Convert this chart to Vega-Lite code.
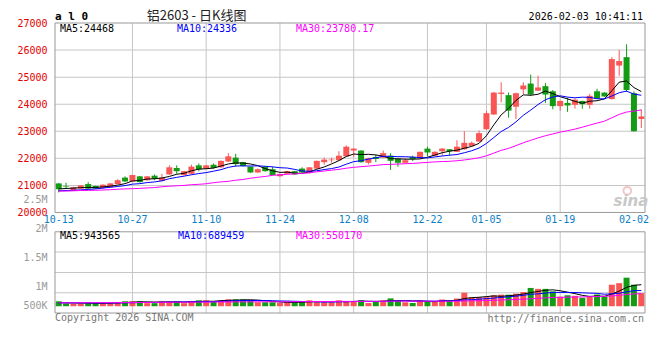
{
  "$schema": "https://vega.github.io/schema/vega-lite/v6.json",
  "width": 600,
  "height": 300,
  "autosize": "none",
  "padding": {"left": 50, "top": 18, "right": 10, "bottom": 42},
  "background": "white",
  "config": {"view": {"stroke": null}, "text": {"font": "DejaVu Sans Mono", "fontSize": 10}},
  "datasets": {
    "k": [
      {"i":0,"o":21073,"h":21085,"l":20740,"c":20859,"v":216000,"m5":20870,"m10":20800,"m30":20788,"vm5":160000,"vm10":150000,"vm30":150000},
      {"i":1,"o":20960,"h":21097,"l":20883,"c":20940,"v":120000,"m5":20885,"m10":20810,"m30":20790,"vm5":150000,"vm10":150000,"vm30":151000},
      {"i":2,"o":20811,"h":20950,"l":20800,"c":20930,"v":110000,"m5":20900,"m10":20820,"m30":20800,"vm5":145000,"vm10":148000,"vm30":152000},
      {"i":3,"o":20883,"h":21010,"l":20870,"c":21000,"v":120000,"m5":20915,"m10":20835,"m30":20811,"vm5":140000,"vm10":146000,"vm30":153000},
      {"i":4,"o":21049,"h":21121,"l":20870,"c":20883,"v":140000,"m5":20922,"m10":20850,"m30":20815,"vm5":141200,"vm10":145000,"vm30":154000},
      {"i":5,"o":20978,"h":20990,"l":20870,"c":20883,"v":140000,"m5":20927,"m10":20870,"m30":20820,"vm5":126000,"vm10":143000,"vm30":155000},
      {"i":6,"o":20907,"h":21040,"l":20880,"c":21026,"v":140000,"m5":20944,"m10":20900,"m30":20830,"vm5":130000,"vm10":142000,"vm30":156000},
      {"i":7,"o":20930,"h":21080,"l":20920,"c":21073,"v":140000,"m5":20973,"m10":20930,"m30":20840,"vm5":136000,"vm10":142000,"vm30":157000},
      {"i":8,"o":21049,"h":21230,"l":21040,"c":21192,"v":175000,"m5":21011,"m10":20960,"m30":20859,"vm5":147000,"vm10":145000,"vm30":158000},
      {"i":9,"o":21287,"h":21335,"l":21121,"c":21145,"v":216000,"m5":21064,"m10":20993,"m30":20870,"vm5":162200,"vm10":151700,"vm30":160000},
      {"i":10,"o":21145,"h":21390,"l":21130,"c":21383,"v":216000,"m5":21164,"m10":21046,"m30":20880,"vm5":177400,"vm10":151700,"vm30":162000},
      {"i":11,"o":21335,"h":21345,"l":21100,"c":21121,"v":216000,"m5":21183,"m10":21064,"m30":20890,"vm5":192600,"vm10":161300,"vm30":164000},
      {"i":12,"o":21192,"h":21345,"l":21170,"c":21335,"v":135000,"m5":21235,"m10":21104,"m30":20907,"vm5":191600,"vm10":163800,"vm30":166000},
      {"i":13,"o":21359,"h":21406,"l":21192,"c":21240,"v":135000,"m5":21245,"m10":21128,"m30":20920,"vm5":183600,"vm10":165300,"vm30":168000},
      {"i":14,"o":21168,"h":21430,"l":21150,"c":21287,"v":216000,"m5":21273,"m10":21169,"m30":20950,"vm5":183600,"vm10":172900,"vm30":170000},
      {"i":15,"o":21406,"h":21740,"l":21390,"c":21668,"v":216000,"m5":21330,"m10":21247,"m30":20970,"vm5":183600,"vm10":180500,"vm30":172000},
      {"i":16,"o":21644,"h":21740,"l":21430,"c":21525,"v":216000,"m5":21411,"m10":21297,"m30":20985,"vm5":183600,"vm10":188100,"vm30":174000},
      {"i":17,"o":21382,"h":21540,"l":21370,"c":21525,"v":135000,"m5":21449,"m10":21342,"m30":21000,"vm5":183600,"vm10":187600,"vm30":176000},
      {"i":18,"o":21430,"h":21763,"l":21400,"c":21692,"v":216000,"m5":21539,"m10":21392,"m30":21026,"vm5":199800,"vm10":191700,"vm30":178000},
      {"i":19,"o":21740,"h":21811,"l":21525,"c":21597,"v":259000,"m5":21601,"m10":21437,"m30":21040,"vm5":208400,"vm10":196000,"vm30":180000},
      {"i":20,"o":21621,"h":21760,"l":21600,"c":21740,"v":259000,"m5":21616,"m10":21473,"m30":21060,"vm5":217000,"vm10":200300,"vm30":182000},
      {"i":21,"o":21763,"h":21811,"l":21620,"c":21644,"v":216000,"m5":21640,"m10":21525,"m30":21100,"vm5":217000,"vm10":200300,"vm30":184000},
      {"i":22,"o":21668,"h":21920,"l":21650,"c":21906,"v":259000,"m5":21716,"m10":21582,"m30":21130,"vm5":241800,"vm10":212700,"vm30":186000},
      {"i":23,"o":21882,"h":22192,"l":21870,"c":22073,"v":300000,"m5":21792,"m10":21666,"m30":21150,"vm5":258600,"vm10":229200,"vm30":188000},
      {"i":24,"o":22026,"h":22168,"l":21692,"c":21787,"v":300000,"m5":21830,"m10":21716,"m30":21192,"vm5":266800,"vm10":237600,"vm30":190000},
      {"i":25,"o":21859,"h":21870,"l":21700,"c":21716,"v":300000,"m5":21825,"m10":21721,"m30":21220,"vm5":275000,"vm10":246000,"vm30":192000},
      {"i":26,"o":21692,"h":21700,"l":21460,"c":21478,"v":259000,"m5":21792,"m10":21716,"m30":21264,"vm5":283600,"vm10":250300,"vm30":193000},
      {"i":27,"o":21478,"h":21620,"l":21455,"c":21597,"v":175000,"m5":21730,"m10":21723,"m30":21300,"vm5":266800,"vm10":254300,"vm30":194000},
      {"i":28,"o":21692,"h":21700,"l":21510,"c":21525,"v":175000,"m5":21621,"m10":21706,"m30":21330,"vm5":241800,"vm10":250200,"vm30":195000},
      {"i":29,"o":21597,"h":21692,"l":21370,"c":21383,"v":175000,"m5":21540,"m10":21685,"m30":21372,"vm5":216800,"vm10":241800,"vm30":196500},
      {"i":30,"o":21340,"h":21430,"l":21320,"c":21420,"v":140000,"m5":21481,"m10":21653,"m30":21390,"vm5":184800,"vm10":229900,"vm30":194000},
      {"i":31,"o":21430,"h":21540,"l":21420,"c":21525,"v":175000,"m5":21490,"m10":21641,"m30":21410,"vm5":168000,"vm10":225800,"vm30":195800},
      {"i":32,"o":21525,"h":21540,"l":21390,"c":21406,"v":175000,"m5":21452,"m10":21591,"m30":21426,"vm5":168000,"vm10":217400,"vm30":198000},
      {"i":33,"o":21621,"h":21668,"l":21460,"c":21478,"v":216000,"m5":21442,"m10":21532,"m30":21442,"vm5":176200,"vm10":209000,"vm30":201200},
      {"i":34,"o":21454,"h":21680,"l":21440,"c":21668,"v":259000,"m5":21499,"m10":21520,"m30":21468,"vm5":193000,"vm10":204900,"vm30":205100},
      {"i":35,"o":21621,"h":21920,"l":21610,"c":21906,"v":175000,"m5":21597,"m10":21539,"m30":21502,"vm5":200000,"vm10":192400,"vm30":206300},
      {"i":36,"o":21858,"h":22026,"l":21763,"c":21954,"v":175000,"m5":21682,"m10":21586,"m30":21533,"vm5":200000,"vm10":184000,"vm30":207500},
      {"i":37,"o":21930,"h":22026,"l":21835,"c":21954,"v":175000,"m5":21792,"m10":21622,"m30":21562,"vm5":200000,"vm10":184000,"vm30":208600},
      {"i":38,"o":21930,"h":22264,"l":21920,"c":22097,"v":259000,"m5":21916,"m10":21679,"m30":21593,"vm5":208600,"vm10":192400,"vm30":211400},
      {"i":39,"o":22073,"h":22478,"l":22060,"c":22430,"v":216000,"m5":22068,"m10":21784,"m30":21635,"vm5":200000,"vm10":196500,"vm30":211400},
      {"i":40,"o":22287,"h":22380,"l":22050,"c":22359,"v":216000,"m5":22159,"m10":21878,"m30":21668,"vm5":208200,"vm10":204100,"vm30":211400},
      {"i":41,"o":22287,"h":22300,"l":21840,"c":21858,"v":259000,"m5":22140,"m10":21911,"m30":21692,"vm5":225000,"vm10":212500,"vm30":212900},
      {"i":42,"o":21835,"h":22020,"l":21780,"c":22002,"v":140000,"m5":22149,"m10":21971,"m30":21715,"vm5":218000,"vm10":209000,"vm30":213000},
      {"i":43,"o":22049,"h":22145,"l":21858,"c":21978,"v":216000,"m5":22125,"m10":22021,"m30":21739,"vm5":209400,"vm10":209000,"vm30":215700},
      {"i":44,"o":22026,"h":22287,"l":22010,"c":22192,"v":259000,"m5":22078,"m10":22073,"m30":21769,"vm5":218000,"vm10":209000,"vm30":217200},
      {"i":45,"o":22097,"h":22192,"l":21573,"c":21906,"v":343000,"m5":21987,"m10":22073,"m30":21777,"vm5":243400,"vm10":225800,"vm30":221400},
      {"i":46,"o":21978,"h":21990,"l":21692,"c":21835,"v":259000,"m5":21983,"m10":22061,"m30":21788,"vm5":243400,"vm10":234200,"vm30":222800},
      {"i":47,"o":21835,"h":22002,"l":21810,"c":21930,"v":175000,"m5":21968,"m10":22059,"m30":21801,"vm5":250400,"vm10":234200,"vm30":224200},
      {"i":48,"o":22049,"h":22097,"l":21900,"c":21978,"v":140000,"m5":21968,"m10":22047,"m30":21811,"vm5":235200,"vm10":222300,"vm30":221600},
      {"i":49,"o":22002,"h":22250,"l":21990,"c":22240,"v":259000,"m5":21978,"m10":22028,"m30":21832,"vm5":235200,"vm10":226600,"vm30":221600},
      {"i":50,"o":22359,"h":22430,"l":22073,"c":22216,"v":215000,"m5":22040,"m10":22014,"m30":21848,"vm5":209600,"vm10":226500,"vm30":220200},
      {"i":51,"o":22097,"h":22260,"l":22080,"c":22240,"v":210000,"m5":22121,"m10":22052,"m30":21868,"vm5":199800,"vm10":221600,"vm30":220000},
      {"i":52,"o":22263,"h":22380,"l":22097,"c":22359,"v":295000,"m5":22207,"m10":22087,"m30":21883,"vm5":223800,"vm10":237100,"vm30":221200},
      {"i":53,"o":22335,"h":22345,"l":22097,"c":22263,"v":250000,"m5":22264,"m10":22116,"m30":21889,"vm5":245800,"vm10":240500,"vm30":219500},
      {"i":54,"o":22240,"h":22668,"l":22230,"c":22430,"v":335000,"m5":22302,"m10":22140,"m30":21911,"vm5":261000,"vm10":248100,"vm30":220700},
      {"i":55,"o":22335,"h":23001,"l":22320,"c":22573,"v":590000,"m5":22373,"m10":22206,"m30":21939,"vm5":336000,"vm10":272800,"vm30":230300},
      {"i":56,"o":22454,"h":22620,"l":22440,"c":22573,"v":395000,"m5":22440,"m10":22280,"m30":21976,"vm5":373000,"vm10":286400,"vm30":234900},
      {"i":57,"o":22620,"h":23025,"l":22600,"c":22930,"v":395000,"m5":22554,"m10":22380,"m30":22020,"vm5":393000,"vm10":308400,"vm30":242200},
      {"i":58,"o":23073,"h":23763,"l":23060,"c":23668,"v":395000,"m5":22835,"m10":22549,"m30":22092,"vm5":422000,"vm10":333900,"vm30":249500},
      {"i":59,"o":23620,"h":24450,"l":23600,"c":24429,"v":480000,"m5":23235,"m10":22768,"m30":22193,"vm5":451000,"vm10":356000,"vm30":259700},
      {"i":60,"o":24381,"h":24810,"l":24072,"c":24430,"v":505000,"m5":23606,"m10":22990,"m30":22294,"vm5":434000,"vm10":385000,"vm30":271900},
      {"i":61,"o":24334,"h":24429,"l":23501,"c":23763,"v":505000,"m5":23844,"m10":23142,"m30":22368,"vm5":456000,"vm10":414500,"vm30":282900},
      {"i":62,"o":23906,"h":24430,"l":23453,"c":24405,"v":550000,"m5":24139,"m10":23346,"m30":22468,"vm5":487000,"vm10":440000,"vm30":295400},
      {"i":63,"o":24548,"h":24810,"l":24358,"c":24691,"v":620000,"m5":24344,"m10":23589,"m30":22575,"vm5":532000,"vm10":477000,"vm30":308800},
      {"i":64,"o":24762,"h":25095,"l":24310,"c":24358,"v":800000,"m5":24329,"m10":23782,"m30":22665,"vm5":596000,"vm10":523500,"vm30":326900},
      {"i":65,"o":24500,"h":25048,"l":24480,"c":24619,"v":760000,"m5":24367,"m10":23987,"m30":22755,"vm5":647000,"vm10":540500,"vm30":346400},
      {"i":66,"o":24667,"h":24786,"l":24048,"c":24358,"v":760000,"m5":24486,"m10":24165,"m30":22835,"vm5":698000,"vm10":577000,"vm30":365900},
      {"i":67,"o":24477,"h":24524,"l":23810,"c":23929,"v":650000,"m5":24391,"m10":24265,"m30":22901,"vm5":718000,"vm10":602500,"vm30":381700},
      {"i":68,"o":23929,"h":24140,"l":23763,"c":24120,"v":420000,"m5":24277,"m10":24310,"m30":22969,"vm5":678000,"vm10":605000,"vm30":387100},
      {"i":69,"o":24048,"h":24239,"l":23715,"c":23953,"v":480000,"m5":24196,"m10":24263,"m30":23020,"vm5":614000,"vm10":605000,"vm30":395900},
      {"i":70,"o":23977,"h":24215,"l":23834,"c":24167,"v":455000,"m5":24105,"m10":24236,"m30":23080,"vm5":553000,"vm10":600000,"vm30":403800},
      {"i":71,"o":24120,"h":24130,"l":23834,"c":24001,"v":370000,"m5":24034,"m10":24260,"m30":23151,"vm5":475000,"vm10":586500,"vm30":407500},
      {"i":72,"o":23977,"h":24381,"l":23834,"c":24310,"v":425000,"m5":24110,"m10":24251,"m30":23228,"vm5":430000,"vm10":574000,"vm30":417000},
      {"i":73,"o":24477,"h":24572,"l":24200,"c":24215,"v":510000,"m5":24129,"m10":24203,"m30":23303,"vm5":448000,"vm10":563000,"vm30":426800},
      {"i":74,"o":24429,"h":24440,"l":24270,"c":24286,"v":417000,"m5":24196,"m10":24196,"m30":23373,"vm5":435400,"vm10":524700,"vm30":432100},
      {"i":75,"o":24191,"h":25738,"l":24170,"c":25667,"v":943000,"m5":24496,"m10":24301,"m30":23498,"vm5":533000,"vm10":543000,"vm30":452100},
      {"i":76,"o":25429,"h":26000,"l":25048,"c":25595,"v":1010000,"m5":24815,"m10":24424,"m30":23623,"vm5":661000,"vm10":568000,"vm30":477100},
      {"i":77,"o":25738,"h":26214,"l":24453,"c":24524,"v":1250000,"m5":24857,"m10":24484,"m30":23710,"vm5":826000,"vm10":628000,"vm30":513000},
      {"i":78,"o":24405,"h":24477,"l":22990,"c":23001,"v":943000,"m5":24615,"m10":24372,"m30":23744,"vm5":912600,"vm10":680300,"vm30":539700},
      {"i":79,"o":23453,"h":23810,"l":23120,"c":23548,"v":572000,"m5":24467,"m10":24331,"m30":23787,"vm5":943600,"vm10":689500,"vm30":550200}
    ],
    "ticks": [
      {"i":0,"d":"10-13"},{"i":10,"d":"10-27"},{"i":20,"d":"11-10"},{"i":30,"d":"11-24"},{"i":40,"d":"12-08"},
      {"i":50,"d":"12-22"},{"i":58,"d":"01-05"},{"i":68,"d":"01-19"},{"i":78,"d":"02-02"}
    ],
    "pgrid": [{"g":21000},{"g":22000},{"g":23000},{"g":24000},{"g":25000},{"g":26000}],
    "vgrid": [{"g":2368800},{"g":1480500},{"g":592200}]
  },
  "layer": [
    {
      "data": {"name": "k"},
      "layer": [
        {
          "data": {"name": "ticks"},
          "transform": [{"filter": "datum.i > 0 && datum.i < 78"}],
          "mark": {"type": "bar", "size": 1, "color": "#c6c6c6"},
          "encoding": {
            "x": {"field": "i", "type": "quantitative", "scale": {"domain": [-0.5, 79.5], "nice": false, "zero": false}, "axis": null},
            "y": {"datum": 27000, "type": "quantitative", "scale": {"domain": [16285.714, 27000], "nice": false, "zero": false}},
            "y2": {"datum": 20000}
          }
        },
        {
          "data": {"name": "pgrid"},
          "mark": {"type": "bar", "size": 1, "orient": "horizontal", "color": "#c6c6c6"},
          "encoding": {
            "x": {"datum": -0.5, "type": "quantitative", "scale": {"domain": [-0.5, 79.5], "nice": false, "zero": false}, "axis": null},
            "x2": {"datum": 79.5},
            "y": {"field": "g", "type": "quantitative", "scale": {"domain": [16285.714, 27000], "nice": false, "zero": false}}
          }
        },
        {
          "mark": {"type": "rule", "strokeWidth": 1},
          "encoding": {
            "x": {"field": "i", "type": "quantitative", "scale": {"domain": [-0.5, 79.5], "nice": false, "zero": false}, "axis": null},
            "y": {"field": "l", "type": "quantitative", "scale": {"domain": [16285.714, 27000], "nice": false, "zero": false},
              "axis": {"title": null, "values": [20000, 21000, 22000, 23000, 24000, 25000, 26000, 27000], "format": "d", "ticks": false, "domain": false,
                "labelColor": "#e60000", "labelFont": "DejaVu Sans Mono", "labelFontSize": 10, "labelPadding": 3, "grid": false}},
            "y2": {"field": "h"},
            "color": {"condition": {"test": "datum.c >= datum.o", "value": "#fa5555"}, "value": "#139b13"}
          }
        },
        {
          "mark": {"type": "bar", "size": 6},
          "encoding": {
            "x": {"field": "i", "type": "quantitative", "scale": {"domain": [-0.5, 79.5], "nice": false, "zero": false}, "axis": null},
            "y": {"field": "o", "type": "quantitative", "scale": {"domain": [16285.714, 27000], "nice": false, "zero": false}},
            "y2": {"field": "c"},
            "color": {"condition": {"test": "datum.c >= datum.o", "value": "#fa5555"}, "value": "#139b13"}
          }
        },
        {
          "mark": {"type": "line", "color": "#000000", "strokeWidth": 1},
          "encoding": {
            "x": {"field": "i", "type": "quantitative", "scale": {"domain": [-0.5, 79.5], "nice": false, "zero": false}, "axis": null},
            "y": {"field": "m5", "type": "quantitative", "scale": {"domain": [16285.714, 27000], "nice": false, "zero": false}}
          }
        },
        {
          "mark": {"type": "line", "color": "#0000ff", "strokeWidth": 1},
          "encoding": {
            "x": {"field": "i", "type": "quantitative", "scale": {"domain": [-0.5, 79.5], "nice": false, "zero": false}, "axis": null},
            "y": {"field": "m10", "type": "quantitative", "scale": {"domain": [16285.714, 27000], "nice": false, "zero": false}}
          }
        },
        {
          "mark": {"type": "line", "color": "#ff00ff", "strokeWidth": 1},
          "encoding": {
            "x": {"field": "i", "type": "quantitative", "scale": {"domain": [-0.5, 79.5], "nice": false, "zero": false}, "axis": null},
            "y": {"field": "m30", "type": "quantitative", "scale": {"domain": [16285.714, 27000], "nice": false, "zero": false}}
          }
        },
        {
          "data": {"values": [{}]},
          "mark": {"type": "rect", "fill": "transparent", "stroke": "#999999", "strokeWidth": 1},
          "encoding": {
            "x": {"datum": -0.5, "type": "quantitative", "scale": {"domain": [-0.5, 79.5], "nice": false, "zero": false}, "axis": null},
            "x2": {"datum": 79.5},
            "y": {"datum": 27000, "type": "quantitative", "scale": {"domain": [16285.714, 27000], "nice": false, "zero": false}},
            "y2": {"datum": 20000}
          }
        },
        {
          "data": {"values": [{}]},
          "mark": {"type": "text", "align": "left", "baseline": "middle", "color": "#000000", "text": "MA5:24468"},
          "encoding": {
            "x": {"datum": 0.17, "type": "quantitative", "scale": {"domain": [-0.5, 79.5], "nice": false, "zero": false}, "axis": null},
            "y": {"datum": 26786, "type": "quantitative", "scale": {"domain": [16285.714, 27000], "nice": false, "zero": false}}
          }
        },
        {
          "data": {"values": [{}]},
          "mark": {"type": "text", "align": "left", "baseline": "middle", "color": "#0000ff", "text": "MA10:24336"},
          "encoding": {
            "x": {"datum": 16.03, "type": "quantitative", "scale": {"domain": [-0.5, 79.5], "nice": false, "zero": false}, "axis": null},
            "y": {"datum": 26786, "type": "quantitative", "scale": {"domain": [16285.714, 27000], "nice": false, "zero": false}}
          }
        },
        {
          "data": {"values": [{}]},
          "mark": {"type": "text", "align": "left", "baseline": "middle", "color": "#ff00ff", "text": "MA30:23780.17"},
          "encoding": {
            "x": {"datum": 32.17, "type": "quantitative", "scale": {"domain": [-0.5, 79.5], "nice": false, "zero": false}, "axis": null},
            "y": {"datum": 26786, "type": "quantitative", "scale": {"domain": [16285.714, 27000], "nice": false, "zero": false}}
          }
        },
        {
          "data": {"name": "ticks"},
          "mark": {"type": "text", "align": "center", "baseline": "middle", "color": "#0a80c8"},
          "encoding": {
            "x": {"field": "i", "type": "quantitative", "scale": {"domain": [-0.5, 79.5], "nice": false, "zero": false}, "axis": null},
            "y": {"datum": 19714, "type": "quantitative", "scale": {"domain": [16285.714, 27000], "nice": false, "zero": false}},
            "text": {"field": "d"}
          }
        },
        {
          "data": {"values": [{}]},
          "mark": {"type": "text", "align": "left", "baseline": "middle", "color": "#000000", "fontWeight": "bold", "fontSize": 11, "text": "a l 0"},
          "encoding": {
            "x": {"datum": -0.5, "type": "quantitative", "scale": {"domain": [-0.5, 79.5], "nice": false, "zero": false}, "axis": null},
            "y": {"datum": 27214, "type": "quantitative", "scale": {"domain": [16285.714, 27000], "nice": false, "zero": false}}
          }
        },
        {
          "data": {"values": [{}]},
          "mark": {"type": "text", "align": "center", "baseline": "middle", "color": "#222222", "font": "Noto Sans CJK SC", "fontSize": 13, "text": "铝2603 - 日K线图"},
          "encoding": {
            "x": {"datum": 18.7, "type": "quantitative", "scale": {"domain": [-0.5, 79.5], "nice": false, "zero": false}, "axis": null},
            "y": {"datum": 27250, "type": "quantitative", "scale": {"domain": [16285.714, 27000], "nice": false, "zero": false}}
          }
        },
        {
          "data": {"values": [{}]},
          "mark": {"type": "text", "align": "right", "baseline": "middle", "color": "#000000", "text": "2026-02-03 10:41:11"},
          "encoding": {
            "x": {"datum": 79.23, "type": "quantitative", "scale": {"domain": [-0.5, 79.5], "nice": false, "zero": false}, "axis": null},
            "y": {"datum": 27214, "type": "quantitative", "scale": {"domain": [16285.714, 27000], "nice": false, "zero": false}}
          }
        },
        {
          "data": {"values": [{}]},
          "mark": {"type": "point", "filled": false, "stroke": "#f0b0b0", "strokeWidth": 2, "size": 60},
          "encoding": {
            "x": {"datum": 77.1, "type": "quantitative", "scale": {"domain": [-0.5, 79.5], "nice": false, "zero": false}, "axis": null},
            "y": {"datum": 20800, "type": "quantitative", "scale": {"domain": [16285.714, 27000], "nice": false, "zero": false}}
          }
        },
        {
          "data": {"values": [{}]},
          "mark": {"type": "text", "align": "center", "baseline": "middle", "color": "#c8c8c8", "font": "DejaVu Sans", "fontStyle": "italic", "fontWeight": "bold", "fontSize": 15, "text": "sina"},
          "encoding": {
            "x": {"datum": 77.6, "type": "quantitative", "scale": {"domain": [-0.5, 79.5], "nice": false, "zero": false}, "axis": null},
            "y": {"datum": 20430, "type": "quantitative", "scale": {"domain": [16285.714, 27000], "nice": false, "zero": false}}
          }
        }
      ]
    },
    {
      "data": {"name": "k"},
      "layer": [
        {
          "data": {"name": "ticks"},
          "transform": [{"filter": "datum.i > 0 && datum.i < 78"}],
          "mark": {"type": "bar", "size": 1, "color": "#c6c6c6"},
          "encoding": {
            "x": {"field": "i", "type": "quantitative", "scale": {"domain": [-0.5, 79.5], "nice": false, "zero": false}, "axis": null},
            "y": {"datum": 3257100, "type": "quantitative", "scale": {"domain": [-296100, 12393900], "nice": false, "zero": false}},
            "y2": {"datum": -296100}
          }
        },
        {
          "data": {"name": "vgrid"},
          "mark": {"type": "bar", "size": 1, "orient": "horizontal", "color": "#c6c6c6"},
          "encoding": {
            "x": {"datum": -0.5, "type": "quantitative", "scale": {"domain": [-0.5, 79.5], "nice": false, "zero": false}, "axis": null},
            "x2": {"datum": 79.5},
            "y": {"field": "g", "type": "quantitative", "scale": {"domain": [-296100, 12393900], "nice": false, "zero": false}}
          }
        },
        {
          "mark": {"type": "bar", "size": 6},
          "encoding": {
            "x": {"field": "i", "type": "quantitative", "scale": {"domain": [-0.5, 79.5], "nice": false, "zero": false}, "axis": null},
            "y": {"field": "v", "type": "quantitative", "scale": {"domain": [-296100, 12393900], "nice": false, "zero": false},
              "axis": {"title": null, "orient": "left", "values": [42300, 858690, 2127690, 3396690, 4665690],
                "labelExpr": "datum.value > 4000000 ? '2.5M' : datum.value > 3000000 ? '2M' : datum.value > 2000000 ? '1.5M' : datum.value > 500000 ? '1M' : '500K'",
                "ticks": false, "domain": false, "grid": false, "labelColor": "#999999", "labelFont": "DejaVu Sans Mono", "labelFontSize": 10, "labelPadding": 3, "labelOverlap": false}},
            "y2": {"datum": 0},
            "color": {"condition": {"test": "datum.c >= datum.o", "value": "#fa5555"}, "value": "#139b13"}
          }
        },
        {
          "mark": {"type": "line", "color": "#000000", "strokeWidth": 1},
          "encoding": {
            "x": {"field": "i", "type": "quantitative", "scale": {"domain": [-0.5, 79.5], "nice": false, "zero": false}, "axis": null},
            "y": {"field": "vm5", "type": "quantitative", "scale": {"domain": [-296100, 12393900], "nice": false, "zero": false}}
          }
        },
        {
          "mark": {"type": "line", "color": "#0000ff", "strokeWidth": 1},
          "encoding": {
            "x": {"field": "i", "type": "quantitative", "scale": {"domain": [-0.5, 79.5], "nice": false, "zero": false}, "axis": null},
            "y": {"field": "vm10", "type": "quantitative", "scale": {"domain": [-296100, 12393900], "nice": false, "zero": false}}
          }
        },
        {
          "mark": {"type": "line", "color": "#ff00ff", "strokeWidth": 1},
          "encoding": {
            "x": {"field": "i", "type": "quantitative", "scale": {"domain": [-0.5, 79.5], "nice": false, "zero": false}, "axis": null},
            "y": {"field": "vm30", "type": "quantitative", "scale": {"domain": [-296100, 12393900], "nice": false, "zero": false}}
          }
        },
        {
          "data": {"values": [{}]},
          "mark": {"type": "rect", "fill": "transparent", "stroke": "#999999", "strokeWidth": 1},
          "encoding": {
            "x": {"datum": -0.5, "type": "quantitative", "scale": {"domain": [-0.5, 79.5], "nice": false, "zero": false}, "axis": null},
            "x2": {"datum": 79.5},
            "y": {"datum": 3257100, "type": "quantitative", "scale": {"domain": [-296100, 12393900], "nice": false, "zero": false}},
            "y2": {"datum": -296100}
          }
        },
        {
          "data": {"values": [{}]},
          "mark": {"type": "text", "align": "left", "baseline": "middle", "color": "#000000", "text": "MA5:943565"},
          "encoding": {
            "x": {"datum": 0.17, "type": "quantitative", "scale": {"domain": [-0.5, 79.5], "nice": false, "zero": false}, "axis": null},
            "y": {"datum": 3087900, "type": "quantitative", "scale": {"domain": [-296100, 12393900], "nice": false, "zero": false}}
          }
        },
        {
          "data": {"values": [{}]},
          "mark": {"type": "text", "align": "left", "baseline": "middle", "color": "#0000ff", "text": "MA10:689459"},
          "encoding": {
            "x": {"datum": 16.17, "type": "quantitative", "scale": {"domain": [-0.5, 79.5], "nice": false, "zero": false}, "axis": null},
            "y": {"datum": 3087900, "type": "quantitative", "scale": {"domain": [-296100, 12393900], "nice": false, "zero": false}}
          }
        },
        {
          "data": {"values": [{}]},
          "mark": {"type": "text", "align": "left", "baseline": "middle", "color": "#ff00ff", "text": "MA30:550170"},
          "encoding": {
            "x": {"datum": 32.17, "type": "quantitative", "scale": {"domain": [-0.5, 79.5], "nice": false, "zero": false}, "axis": null},
            "y": {"datum": 3087900, "type": "quantitative", "scale": {"domain": [-296100, 12393900], "nice": false, "zero": false}}
          }
        },
        {
          "data": {"values": [{}]},
          "mark": {"type": "text", "align": "left", "baseline": "middle", "color": "#777777", "text": "Copyright 2026 SINA.COM"},
          "encoding": {
            "x": {"datum": -0.5, "type": "quantitative", "scale": {"domain": [-0.5, 79.5], "nice": false, "zero": false}, "axis": null},
            "y": {"datum": -528750, "type": "quantitative", "scale": {"domain": [-296100, 12393900], "nice": false, "zero": false}}
          }
        },
        {
          "data": {"values": [{}]},
          "mark": {"type": "text", "align": "right", "baseline": "middle", "color": "#777777", "text": "http://finance.sina.com.cn"},
          "encoding": {
            "x": {"datum": 79.37, "type": "quantitative", "scale": {"domain": [-0.5, 79.5], "nice": false, "zero": false}, "axis": null},
            "y": {"datum": -550000, "type": "quantitative", "scale": {"domain": [-296100, 12393900], "nice": false, "zero": false}}
          }
        }
      ]
    }
  ],
  "resolve": {"scale": {"y": "independent"}, "axis": {"y": "independent"}}
}
